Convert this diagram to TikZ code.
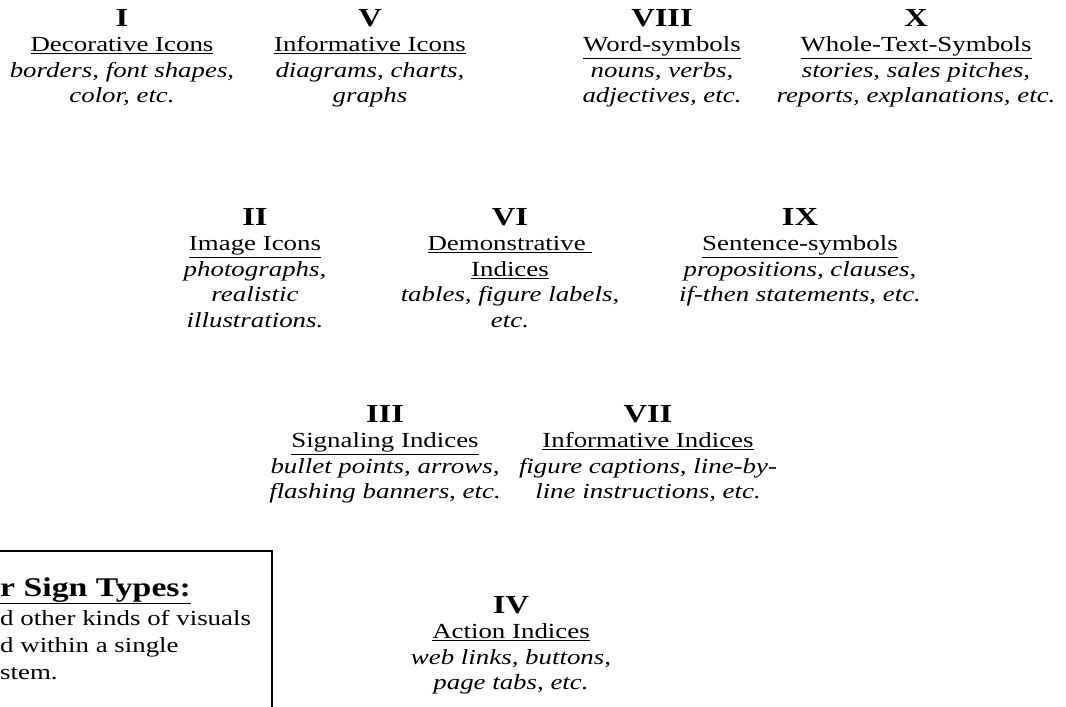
\documentclass[tikz,border=0pt]{standalone}
\usepackage{fontspec}
\setmainfont[FakeStretch=1.25]{Liberation Serif}

\newcommand{\signnum}[1]{{\fontsize{26}{25.5}\selectfont\bfseries #1}}
\newcommand{\signtitle}[1]{\underline{#1}}

\begin{document}
\begin{tikzpicture}[
    x=1pt, y=-1pt,
    sign/.style={anchor=north, align=center, inner sep=0pt,
                 font=\fontsize{21.5}{25.5}\selectfont},
    note/.style={anchor=base west, inner sep=0pt,
                 font=\fontsize{21.5}{27}\selectfont}
]

    % Page size and the clipped box on the left
    \def\pageW{1066}
    \def\pageH{707}
    \def\boxR{272}
    \def\boxT{551}

    \useasboundingbox (0,0) rectangle (\pageW,\pageH);
    \clip (0,0) rectangle (\pageW,\pageH);

    % First row of sign types
    \node[sign] (signI) at (122,9) {\signnum{I}\\ \signtitle{Decorative Icons}\\
        \textit{borders, font shapes,}\\ \textit{color, etc.}};
    \node[sign] (signV) at (370,9) {\signnum{V}\\ \signtitle{Informative Icons}\\
        \textit{diagrams, charts,}\\ \textit{graphs}};
    \node[sign] (signVIII) at (662,9) {\signnum{VIII}\\ \signtitle{Word-symbols}\\
        \textit{nouns, verbs,}\\ \textit{adjectives, etc.}};
    \node[sign] (signX) at (916,9) {\signnum{X}\\ \signtitle{Whole-Text-Symbols}\\
        \textit{stories, sales pitches,}\\ \textit{reports, explanations, etc.}};

    % Second row
    \node[sign] (signII) at (255,208) {\signnum{II}\\ \signtitle{Image Icons}\\
        \textit{photographs,}\\ \textit{realistic}\\ \textit{illustrations.}};
    \node[sign] (signVI) at (510,208) {\signnum{VI}\\ \signtitle{Demonstrative\ }\\
        \signtitle{Indices}\\ \textit{tables, figure labels,}\\ \textit{etc.}};
    \node[sign] (signIX) at (800,208) {\signnum{IX}\\ \signtitle{Sentence-symbols}\\
        \textit{propositions, clauses,}\\ \textit{if-then statements, etc.}};

    % Third row
    \node[sign] (signIII) at (385,405) {\signnum{III}\\ \signtitle{Signaling Indices}\\
        \textit{bullet points, arrows,}\\ \textit{flashing banners, etc.}};
    \node[sign] (signVII) at (648,405) {\signnum{VII}\\ \signtitle{Informative Indices}\\
        \textit{figure captions, line-by-}\\ \textit{line instructions, etc.}};

    % Fourth row
    \node[sign] (signIV) at (511,596) {\signnum{IV}\\ \signtitle{Action Indices}\\
        \textit{web links, buttons,}\\ \textit{page tabs, etc.}};

    % Box with the other sign types (cut off by the page edge)
    \draw[line width=2.5pt] (-20,\boxT) rectangle (\boxR,\pageH+30);
    \node[note, font=\fontsize{27}{29}\selectfont\bfseries] (boxtitle) at (0,596)
        {\underline{r Sign Types:}};
    \node[note] (boxline1) at (0,625) {d other kinds of visuals};
    \node[note] (boxline2) at (0,652) {d within a single};
    \node[note] (boxline3) at (0,679) {stem.};

\end{tikzpicture}
\end{document}
